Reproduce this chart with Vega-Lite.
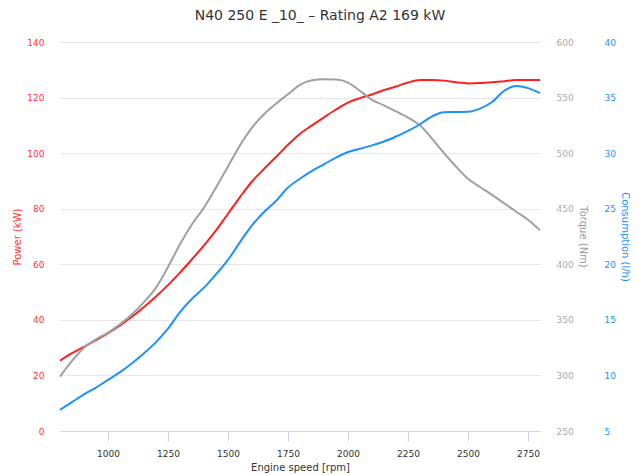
{
  "$schema": "https://vega.github.io/schema/vega-lite/v6.json",
  "width": 480,
  "height": 389,
  "autosize": {"type": "none"},
  "padding": {"left": 60, "top": 42, "right": 99, "bottom": 44},
  "background": "white",
  "title": {
    "text": "N40 250 E _10_ – Rating A2 169 kW",
    "font": "DejaVu Sans",
    "fontSize": 14,
    "fontWeight": "normal",
    "color": "#333333",
    "anchor": "middle",
    "dx": 20,
    "offset": 15
  },
  "config": {
    "view": {"stroke": null},
    "axis": {"labelFont": "DejaVu Sans", "titleFont": "DejaVu Sans", "labelFontSize": 9, "titleFontSize": 10, "titleFontWeight": "normal"}
  },
  "data": {
    "values": [
      {"rpm": 800, "power": 25.3, "torque": 299, "consumption": 6.9},
      {"rpm": 850, "power": 28, "torque": 313, "consumption": 7.6},
      {"rpm": 900, "power": 30.3, "torque": 325, "consumption": 8.3},
      {"rpm": 950, "power": 32.7, "torque": 332.5, "consumption": 8.9},
      {"rpm": 1000, "power": 35.2, "torque": 338.5, "consumption": 9.6},
      {"rpm": 1050, "power": 38, "torque": 346, "consumption": 10.3},
      {"rpm": 1100, "power": 41.1, "torque": 355, "consumption": 11.1},
      {"rpm": 1150, "power": 44.6, "torque": 366, "consumption": 12.0},
      {"rpm": 1200, "power": 48.4, "torque": 379, "consumption": 13.0},
      {"rpm": 1250, "power": 52.5, "torque": 397.5, "consumption": 14.2},
      {"rpm": 1300, "power": 57, "torque": 418, "consumption": 15.7},
      {"rpm": 1350, "power": 61.8, "torque": 436, "consumption": 16.9},
      {"rpm": 1400, "power": 66.8, "torque": 451, "consumption": 17.9},
      {"rpm": 1450, "power": 72.2, "torque": 469, "consumption": 19.1},
      {"rpm": 1500, "power": 78.2, "torque": 488, "consumption": 20.4},
      {"rpm": 1550, "power": 84.2, "torque": 507, "consumption": 22.0},
      {"rpm": 1600, "power": 89.8, "torque": 523, "consumption": 23.5},
      {"rpm": 1650, "power": 94.3, "torque": 535, "consumption": 24.7},
      {"rpm": 1700, "power": 98.6, "torque": 544.5, "consumption": 25.7},
      {"rpm": 1750, "power": 103, "torque": 553, "consumption": 26.9},
      {"rpm": 1800, "power": 107, "torque": 561.5, "consumption": 27.7},
      {"rpm": 1850, "power": 110, "torque": 565.5, "consumption": 28.4},
      {"rpm": 1900, "power": 112.9, "torque": 566.4, "consumption": 29.0},
      {"rpm": 1950, "power": 115.7, "torque": 566.2, "consumption": 29.6},
      {"rpm": 2000, "power": 118.2, "torque": 563.5, "consumption": 30.1},
      {"rpm": 2050, "power": 119.8, "torque": 556, "consumption": 30.4},
      {"rpm": 2100, "power": 121.1, "torque": 548, "consumption": 30.7},
      {"rpm": 2150, "power": 122.7, "torque": 543, "consumption": 31.05},
      {"rpm": 2200, "power": 124, "torque": 537.5, "consumption": 31.5},
      {"rpm": 2250, "power": 125.4, "torque": 532, "consumption": 32.0},
      {"rpm": 2300, "power": 126.3, "torque": 525, "consumption": 32.6},
      {"rpm": 2350, "power": 126.3, "torque": 513, "consumption": 33.3},
      {"rpm": 2400, "power": 126.1, "torque": 500, "consumption": 33.68},
      {"rpm": 2450, "power": 125.5, "torque": 488, "consumption": 33.7},
      {"rpm": 2500, "power": 125.1, "torque": 477, "consumption": 33.72},
      {"rpm": 2550, "power": 125.2, "torque": 469.5, "consumption": 34.0},
      {"rpm": 2600, "power": 125.5, "torque": 462.5, "consumption": 34.6},
      {"rpm": 2650, "power": 125.9, "torque": 455, "consumption": 35.6},
      {"rpm": 2700, "power": 126.3, "torque": 447.5, "consumption": 36.05},
      {"rpm": 2750, "power": 126.3, "torque": 440, "consumption": 35.85},
      {"rpm": 2800, "power": 126.3, "torque": 430.5, "consumption": 35.4}
    ]
  },
  "encoding": {
    "x": {
      "field": "rpm",
      "type": "quantitative",
      "scale": {"domain": [800, 2800], "nice": false, "zero": false},
      "axis": {
        "title": "Engine speed [rpm]",
        "values": [1000, 1250, 1500, 1750, 2000, 2250, 2500, 2750],
        "format": "d",
        "grid": false,
        "domainColor": "#ccd6eb",
        "tickColor": "#ccd6eb",
        "tickSize": 10,
        "labelPadding": 8,
        "labelColor": "#333333",
        "titleColor": "#333333",
        "titlePadding": 4
      }
    }
  },
  "layer": [
    {
      "mark": {"type": "line", "color": "#ff1f1f", "strokeWidth": 2, "interpolate": "monotone"},
      "encoding": {
        "y": {
          "field": "power",
          "type": "quantitative",
          "scale": {"domain": [0, 140], "nice": false},
          "axis": {
            "title": "Power (kW)",
            "orient": "left",
            "values": [0, 20, 40, 60, 80, 100, 120, 140],
            "grid": true,
            "gridColor": "#e6e6e6",
            "domain": false,
            "ticks": false,
            "tickSize": 0,
            "labelPadding": 16,
            "labelColor": "#ff3333",
            "titleColor": "#ff3333",
            "titlePadding": 4
          }
        }
      }
    },
    {
      "mark": {"type": "line", "color": "#a0a0a0", "strokeWidth": 2, "interpolate": "monotone"},
      "encoding": {
        "y": {
          "field": "torque",
          "type": "quantitative",
          "scale": {"domain": [250, 600], "nice": false, "zero": false},
          "axis": {
            "title": "Torque (Nm)",
            "orient": "right",
            "values": [250, 300, 350, 400, 450, 500, 550, 600],
            "grid": false,
            "domain": false,
            "ticks": false,
            "tickSize": 0,
            "labelPadding": 16,
            "labelColor": "#aaaaaa",
            "titleColor": "#999999",
            "titlePadding": 4
          }
        }
      }
    },
    {
      "mark": {"type": "line", "color": "#1e90ff", "strokeWidth": 2, "interpolate": "monotone"},
      "encoding": {
        "y": {
          "field": "consumption",
          "type": "quantitative",
          "scale": {"domain": [5, 40], "nice": false, "zero": false},
          "axis": {
            "title": "Consumption (l/h)",
            "orient": "right",
            "offset": 48,
            "values": [5, 10, 15, 20, 25, 30, 35, 40],
            "grid": false,
            "domain": false,
            "ticks": false,
            "tickSize": 0,
            "labelPadding": 16,
            "labelColor": "#1e90ff",
            "titleColor": "#1e90ff",
            "titlePadding": 4
          }
        }
      }
    }
  ],
  "resolve": {"scale": {"y": "independent"}}
}
